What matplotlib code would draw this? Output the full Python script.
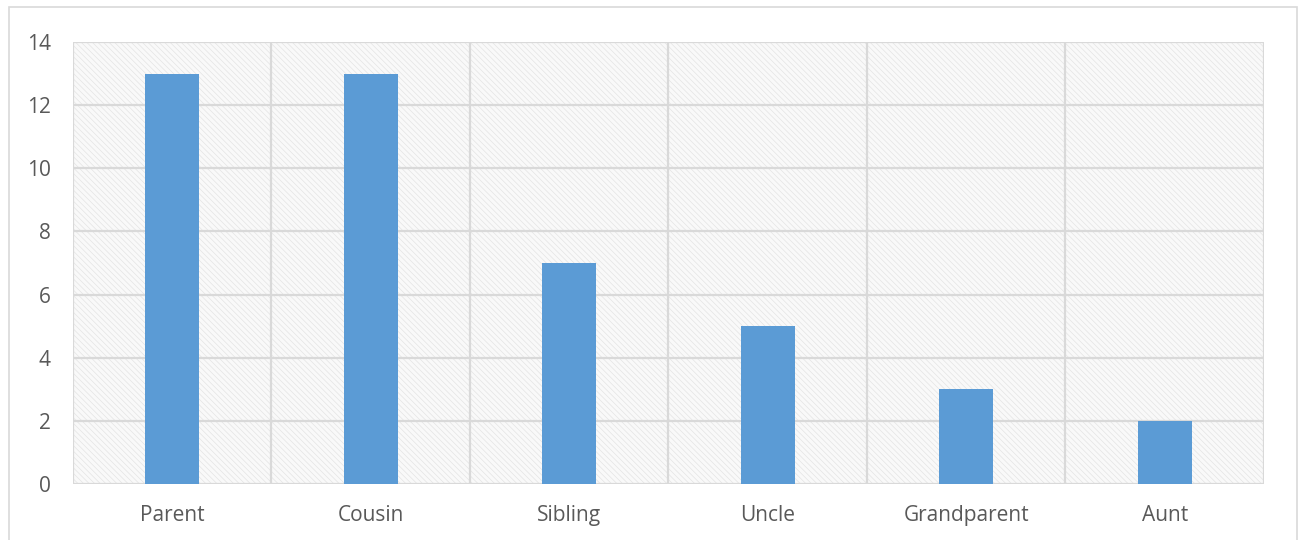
import matplotlib.pyplot as plt
from matplotlib.patches import Rectangle

categories = ['Parent', 'Cousin', 'Sibling', 'Uncle', 'Grandparent', 'Aunt']
counts = [13, 13, 7, 5, 3, 2]
y_ticks = [0, 2, 4, 6, 8, 10, 12, 14]

plt.rcParams['font.family'] = ['Open Sans', 'DejaVu Sans']
plt.rcParams['hatch.color'] = '#e4e4e4'
plt.rcParams['hatch.linewidth'] = 0.5

fig = plt.figure(figsize=(12.99, 5.4), dpi=100)

# outer chart frame, kept behind the axes
frame = Rectangle((9 / 1299, -0.01), 1288 / 1299, 1 - 7 / 540 + 0.01,
                  transform=fig.transFigure, facecolor='none',
                  edgecolor='#d9d9d9', linewidth=1.2, zorder=-1)
fig.add_artist(frame)

ax = fig.add_axes([73 / 1299, 1 - 484 / 540, (1264 - 73) / 1299, (484 - 42) / 540])
ax.set_facecolor('#f9f9f9')
ax.patch.set_hatch('\\\\\\\\\\\\')
ax.patch.set_edgecolor('#e4e4e4')
ax.patch.set_linewidth(0)

x = list(range(len(categories)))
ax.bar(x, counts, width=0.27, color='#5B9BD5', zorder=3)

ax.set_xlim(-0.5, len(categories) - 0.5)
ax.set_ylim(0, 14)
ax.set_yticks(y_ticks)
ax.set_xticks(x)
ax.set_xticklabels(categories)

for y in y_ticks:
    ax.axhline(y, color='#d9d9d9', linewidth=1.6, zorder=1)
for b in [i - 0.5 for i in range(len(categories) + 1)]:
    ax.axvline(b, color='#d9d9d9', linewidth=1.6, zorder=1)

for s in ax.spines.values():
    s.set_visible(False)
ax.tick_params(length=0, labelsize=15, colors='#595959')
ax.tick_params(axis='x', pad=15)
ax.tick_params(axis='y', pad=16)

fig.savefig('out.png', dpi=100)
